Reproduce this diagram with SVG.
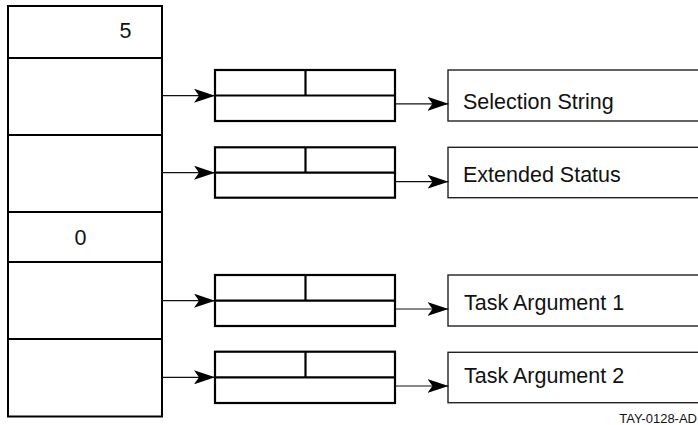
<svg xmlns="http://www.w3.org/2000/svg" width="698" height="425" viewBox="0 0 698 425">
  <style>
    .cell { fill: #fff; stroke: #000; stroke-width: 2; }
    .desc { fill: #fff; stroke: #000; stroke-width: 2.2; }
    .sep { stroke: #000; stroke-width: 2.2; fill: none; }
    .label { fill: #fff; stroke: #222; stroke-width: 1.4; }
    .txt { font-family: "Liberation Sans", Arial, Helvetica, sans-serif; font-size: 21.5px; fill: #111; }
    .note { font-family: "Liberation Sans", Arial, Helvetica, sans-serif; font-size: 13px; fill: #111; }
    .conn { stroke: #111; stroke-width: 1.2; fill: none; marker-end: url(#arrow); }
  </style>
  <defs>
    <marker id="arrow" markerUnits="userSpaceOnUse" markerWidth="22" markerHeight="14" refX="21" refY="7" orient="auto">
      <path d="M0,0 L21,7 L0,14 L5,7 Z" fill="#000"/>
    </marker>
  </defs>
  <rect width="698" height="425" fill="#fff"/>

  <g id="array">
    <g id="cell-count">
      <rect class="cell" x="8" y="6" width="154" height="52"/>
      <text class="txt" x="125.5" y="37.5" text-anchor="middle">5</text>
    </g>
    <g id="cell-selection"><rect class="cell" x="8" y="58" width="154" height="77"/></g>
    <g id="cell-status"><rect class="cell" x="8" y="135" width="154" height="77"/></g>
    <g id="cell-zero">
      <rect class="cell" x="8" y="212" width="154" height="50"/>
      <text class="txt" x="80.5" y="245" text-anchor="middle">0</text>
    </g>
    <g id="cell-arg1"><rect class="cell" x="8" y="262" width="154" height="77"/></g>
    <g id="cell-arg2"><rect class="cell" x="8" y="339" width="154" height="77.5"/></g>
  </g>

  <g id="desc1">
    <rect class="desc" x="215" y="70" width="180" height="51"/>
    <path class="sep" d="M215,95.5 H395 M305.5,70 V95.5"/>
  </g>
  <g id="desc2">
    <rect class="desc" x="215" y="147.3" width="180" height="50.4"/>
    <path class="sep" d="M215,172.7 H395 M305.5,147.3 V172.7"/>
  </g>
  <g id="desc3">
    <rect class="desc" x="215" y="275" width="180" height="51"/>
    <path class="sep" d="M215,300.7 H395 M305.5,275 V300.7"/>
  </g>
  <g id="desc4">
    <rect class="desc" x="215" y="351.7" width="180" height="51.3"/>
    <path class="sep" d="M215,377.3 H395 M305.5,351.7 V377.3"/>
  </g>

  <g id="label1">
    <rect class="label" x="448" y="70" width="270" height="51"/>
    <text class="txt" x="463" y="108.5">Selection String</text>
  </g>
  <g id="label2">
    <rect class="label" x="448" y="147.3" width="270" height="50.4"/>
    <text class="txt" x="463" y="182">Extended Status</text>
  </g>
  <g id="label3">
    <rect class="label" x="448" y="275" width="270" height="51"/>
    <text class="txt" x="464" y="310">Task Argument 1</text>
  </g>
  <g id="label4">
    <rect class="label" x="448" y="352.3" width="270" height="50.4"/>
    <text class="txt" x="464" y="383">Task Argument 2</text>
  </g>

  <g id="connectors">
    <path class="conn" d="M162,95.7 H215"/>
    <path class="conn" d="M162,172.7 H215"/>
    <path class="conn" d="M162,300.7 H215"/>
    <path class="conn" d="M162,377.3 H215"/>
    <path class="conn" d="M395,103.8 H448.5"/>
    <path class="conn" d="M395,181.7 H448.5"/>
    <path class="conn" d="M395,309 H448.5"/>
    <path class="conn" d="M395,386 H448.5"/>
  </g>

  <text id="figure-id" class="note" x="697" y="423" text-anchor="end">TAY-0128-AD</text>
</svg>
